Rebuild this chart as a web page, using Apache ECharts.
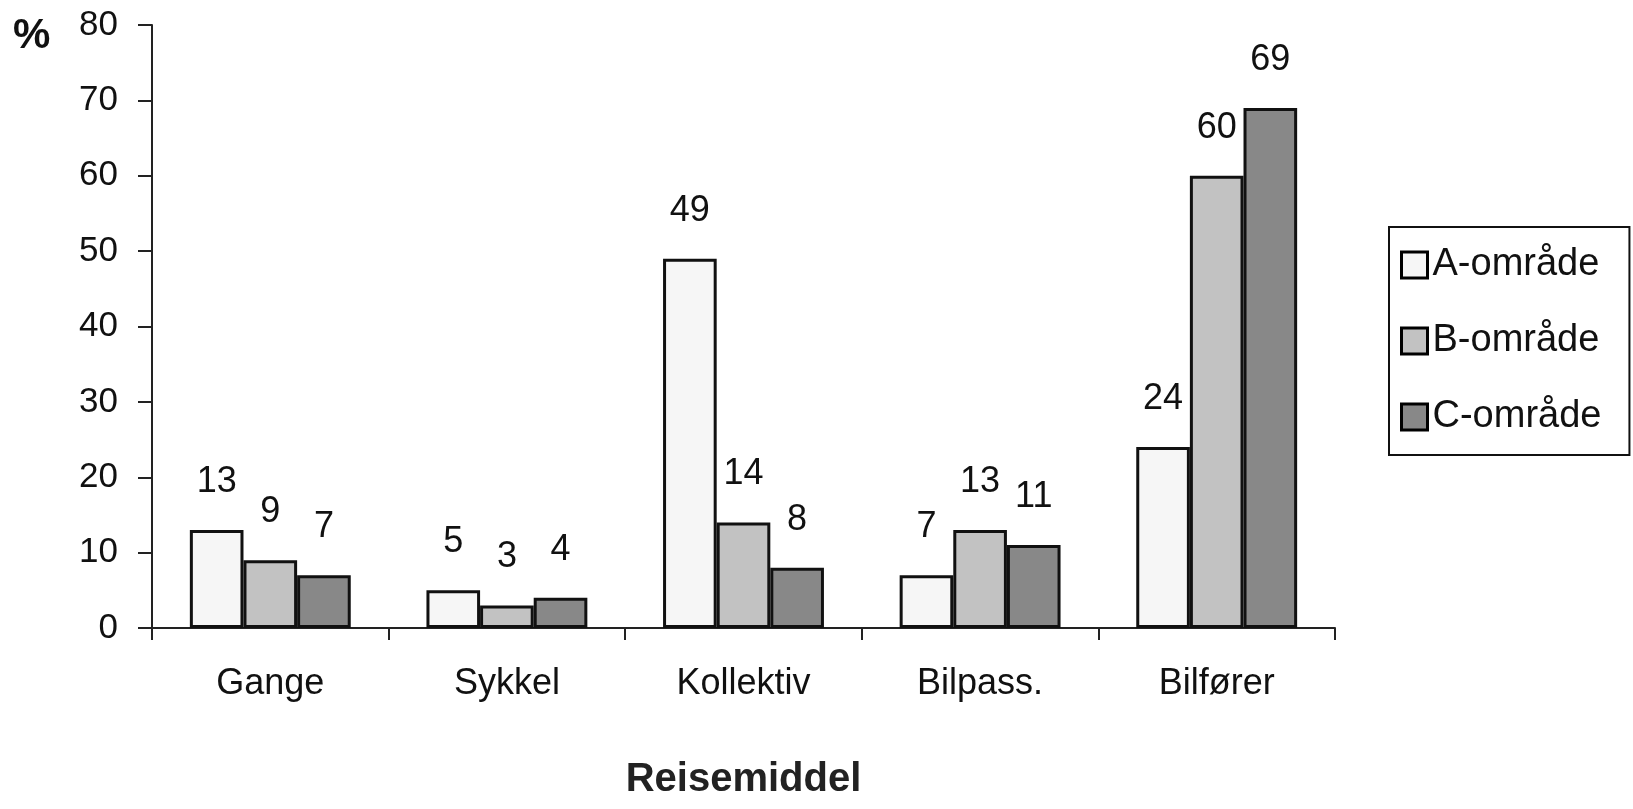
<!DOCTYPE html>
<html>
<head>
<meta charset="utf-8">
<script src="https://cdn.jsdelivr.net/npm/echarts@6/dist/echarts.min.js"></script>
<style>
html,body{margin:0;padding:0;background:#fff;}
#chart{width:1633px;height:809px;}
</style>
</head>
<body>
<div id="chart"></div>
<script>
const categories = ['Gange', 'Sykkel', 'Kollektiv', 'Bilpass.', 'Bilfører'];
const seriesNames = ['A-område', 'B-område', 'C-område'];
const valuesA = [13, 5, 49, 7, 24];
const valuesB = [9, 3, 14, 13, 60];
const valuesC = [7, 4, 8, 11, 69];
const yTicks = [0, 10, 20, 30, 40, 50, 60, 70, 80];
const xAxisTitle = 'Reisemiddel';
const yUnit = '%';

const FONT = '"Liberation Sans", Arial, Helvetica, sans-serif';
const fills = ['#f6f6f6', '#c2c2c2', '#888888'];
const allValues = [valuesA, valuesB, valuesC];

const chart = echarts.init(document.getElementById('chart'));
chart.setOption({
  animation: false,
  backgroundColor: '#ffffff',
  textStyle: { fontFamily: FONT, color: '#000' },
  grid: { left: 152, right: 298, top: 25, bottom: 181, containLabel: false },
  legend: {
    orient: 'vertical',
    left: 1389,
    top: 227,
    padding: [18, 28, 18, 11],
    itemGap: 36,
    itemWidth: 26,
    itemHeight: 26,
    borderColor: '#111',
    borderWidth: 2,
    icon: 'rect',
    itemStyle: { borderColor: '#000', borderWidth: 3 },
    textStyle: { fontFamily: FONT, fontSize: 38, color: '#111', lineHeight: 40 },
    data: seriesNames
  },
  xAxis: {
    type: 'category',
    data: categories,
    name: xAxisTitle,
    nameLocation: 'middle',
    nameGap: 132,
    nameTextStyle: { fontFamily: FONT, fontSize: 40, fontWeight: 'bold', color: '#222' },
    axisLine: { lineStyle: { color: '#222', width: 2 } },
    axisTick: { show: true, length: 12, inside: false, alignWithLabel: false, lineStyle: { color: '#222', width: 2 } },
    axisLabel: { fontFamily: FONT, fontSize: 36, color: '#111', margin: 38 },
    splitLine: { show: false }
  },
  yAxis: {
    type: 'value',
    min: yTicks[0],
    max: yTicks[yTicks.length - 1],
    interval: yTicks[1] - yTicks[0],
    axisLine: { show: true, lineStyle: { color: '#222', width: 2 } },
    axisTick: { show: true, length: 14, lineStyle: { color: '#222', width: 2 } },
    axisLabel: { fontFamily: FONT, fontSize: 35, color: '#111', margin: 34 },
    splitLine: { show: false }
  },
  graphic: [{
    type: 'text',
    left: 13,
    top: 15,
    style: { text: yUnit, font: 'bold 42px ' + FONT, fill: '#111' }
  }],
  series: seriesNames.map((name, i) => ({
    name: name,
    type: 'bar',
    data: allValues[i],
    barGap: '0%',
    barCategoryGap: '32%',
    itemStyle: { color: fills[i], borderColor: '#111', borderWidth: 3 },
    label: {
      show: true,
      position: 'top',
      distance: 30,
      fontFamily: FONT,
      fontSize: 36,
      color: '#111'
    }
  }))
});
</script>
</body>
</html>
